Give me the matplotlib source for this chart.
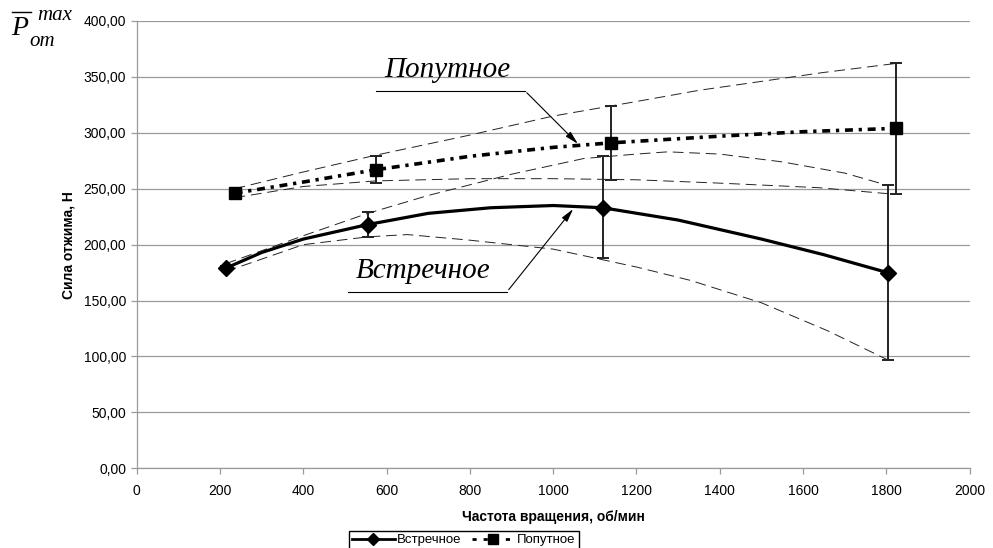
import matplotlib
matplotlib.use("Agg")
import matplotlib.pyplot as plt
from matplotlib.lines import Line2D

plt.rcParams['font.family'] = ['Liberation Sans', 'DejaVu Sans']

# --- data ---
vstr_x = [214, 555, 1119, 1803]
vstr_y = [179, 218, 233, 175]
vstr_err_lo = [1.5, 11, 45, 78]
vstr_err_hi = [1.5, 11.5, 46, 78]

pop_x = [235, 574, 1138, 1822]
pop_y = [246, 267, 291, 304]
pop_err_lo = [1.5, 11.5, 33, 59]
pop_err_hi = [1.5, 12.5, 33, 58]

# smoothed trend lines
vstr_line_x = [214, 300, 400, 555, 700, 850, 1000, 1119, 1300, 1500, 1650, 1803]
vstr_line_y = [179, 193, 205, 218, 228, 233, 235, 233, 222, 205, 191, 175]
pop_line_x = [235, 400, 574, 800, 1000, 1138, 1400, 1600, 1822]
pop_line_y = [246, 256, 267, 279, 287, 291, 297, 301, 304]

# confidence band curves (thin dashed)
vstr_up_x = [214, 400, 555, 700, 900, 1073, 1200, 1275, 1400, 1550, 1700, 1803]
vstr_up_y = [183, 208, 228, 244, 263, 277, 281, 283, 281, 274, 264, 253]
vstr_lo_x = [214, 400, 555, 650, 800, 1000, 1200, 1330, 1500, 1659, 1803]
vstr_lo_y = [176, 200, 207, 209, 204, 196, 180, 168, 148, 123, 97]
pop_up_x = [235, 400, 574, 800, 1000, 1200, 1350, 1500, 1650, 1822]
pop_up_y = [250, 265, 280, 298, 315, 328, 338, 346, 354, 362]
pop_lo_x = [235, 400, 574, 800, 1000, 1200, 1400, 1635, 1822]
pop_lo_y = [242, 252, 257, 259, 259, 258, 255, 251, 245]

xticks = list(range(0, 2001, 200))
yticks = list(range(0, 401, 50))
ytick_labels = [f"{v},00" for v in yticks]

fig = plt.figure(figsize=(9.93, 5.48), dpi=100)
ax = fig.add_axes([0.1377, 0.1454, 0.8388, 0.8163])

ax.set_xlim(0, 2000)
ax.set_ylim(0, 400)
ax.set_xticks(xticks)
ax.set_xticklabels([str(v) for v in xticks], fontsize=10)
ax.set_yticks(yticks)
ax.set_yticklabels(ytick_labels, fontsize=10)
ax.grid(axis='y', color='#9a9a9a', lw=0.9)
ax.set_axisbelow(True)
for s in ['top', 'right']:
    ax.spines[s].set_visible(False)
for s in ['left', 'bottom']:
    ax.spines[s].set_color('#9a9a9a')
    ax.spines[s].set_linewidth(0.9)
ax.tick_params(axis='both', colors='#9a9a9a', labelcolor='black', length=4, width=0.9)
ax.tick_params(axis='x', pad=7)

dash_style = (0, (11, 6))
for cx, cy in [(vstr_up_x, vstr_up_y), (vstr_lo_x, vstr_lo_y), (pop_up_x, pop_up_y), (pop_lo_x, pop_lo_y)]:
    ax.plot(cx, cy, color='#222222', lw=0.7, linestyle=dash_style, zorder=2)

ax.plot(vstr_line_x, vstr_line_y, color='black', lw=2.3, zorder=3)
ax.plot(pop_line_x, pop_line_y, color='black', lw=2.6, linestyle=(0, (2.2, 1.6, 0.9, 1.6)), zorder=3)

ax.errorbar(vstr_x, vstr_y, yerr=[vstr_err_lo, vstr_err_hi], fmt='D', color='black',
            ms=8, ecolor='#222222', elinewidth=1.4, capsize=4, capthick=1.4, zorder=4)
ax.errorbar(pop_x, pop_y, yerr=[pop_err_lo, pop_err_hi], fmt='s', color='black',
            ms=9, ecolor='#222222', elinewidth=1.4, capsize=4, capthick=1.4, zorder=4)

ax.set_xlabel('Частота вращения, об/мин', fontsize=10, fontweight='bold', labelpad=9)
ax.set_ylabel('Сила отжима, Н', fontsize=10, fontweight='bold', labelpad=6)

# annotations
serif = ['Liberation Serif', 'DejaVu Serif']
ax.text(745, 356, 'Попутное', fontsize=21, style='italic', family=serif, ha='center', va='center')
ax.plot([574, 932], [337.6, 337.6], color='black', lw=0.8, clip_on=False)
ax.annotate('', xy=(1064, 288.4), xytext=(932, 337.6),
            arrowprops=dict(arrowstyle='-|>,head_length=0.8,head_width=0.2', color='black', lw=0.8))
ax.text(687, 176, 'Встречное', fontsize=21, style='italic', family=serif, ha='center', va='center')
ax.plot([507, 889], [157.8, 157.8], color='black', lw=0.8)
ax.annotate('', xy=(1052, 233.8), xytext=(889, 157.8),
            arrowprops=dict(arrowstyle='-|>,head_length=0.8,head_width=0.2', color='black', lw=0.8))

# top-left symbol
fig.text(11 / 993, 1 - 35 / 548, 'P', fontsize=20, style='italic', family=serif, ha='left', va='baseline')
fig.add_artist(Line2D([12 / 993, 31 / 993], [1 - 12 / 548, 1 - 12 / 548], color='black', lw=1.0))
fig.text(37 / 993, 1 - 15 / 548, 'max', fontsize=15, style='italic', family=serif, ha='left', va='center')
fig.text(29 / 993, 1 - 41 / 548, 'от', fontsize=15, style='italic', family=serif, ha='left', va='center')

handles = [
    Line2D([], [], color='black', lw=2.0, marker='D', ms=6),
    Line2D([], [], color='black', lw=2.0, linestyle=(0, (1.5, 2.5)), marker='s', ms=7),
]
fig.legend(handles, ['Встречное', 'Попутное'], loc='center', bbox_to_anchor=(464 / 993, 1 - 540 / 548),
           ncol=2, fontsize=9.5, frameon=True, fancybox=False, edgecolor='black', handlelength=3.2,
           handletextpad=0.2, columnspacing=0.8, borderpad=0.25, framealpha=1)

fig.savefig('out.png', dpi=100)
